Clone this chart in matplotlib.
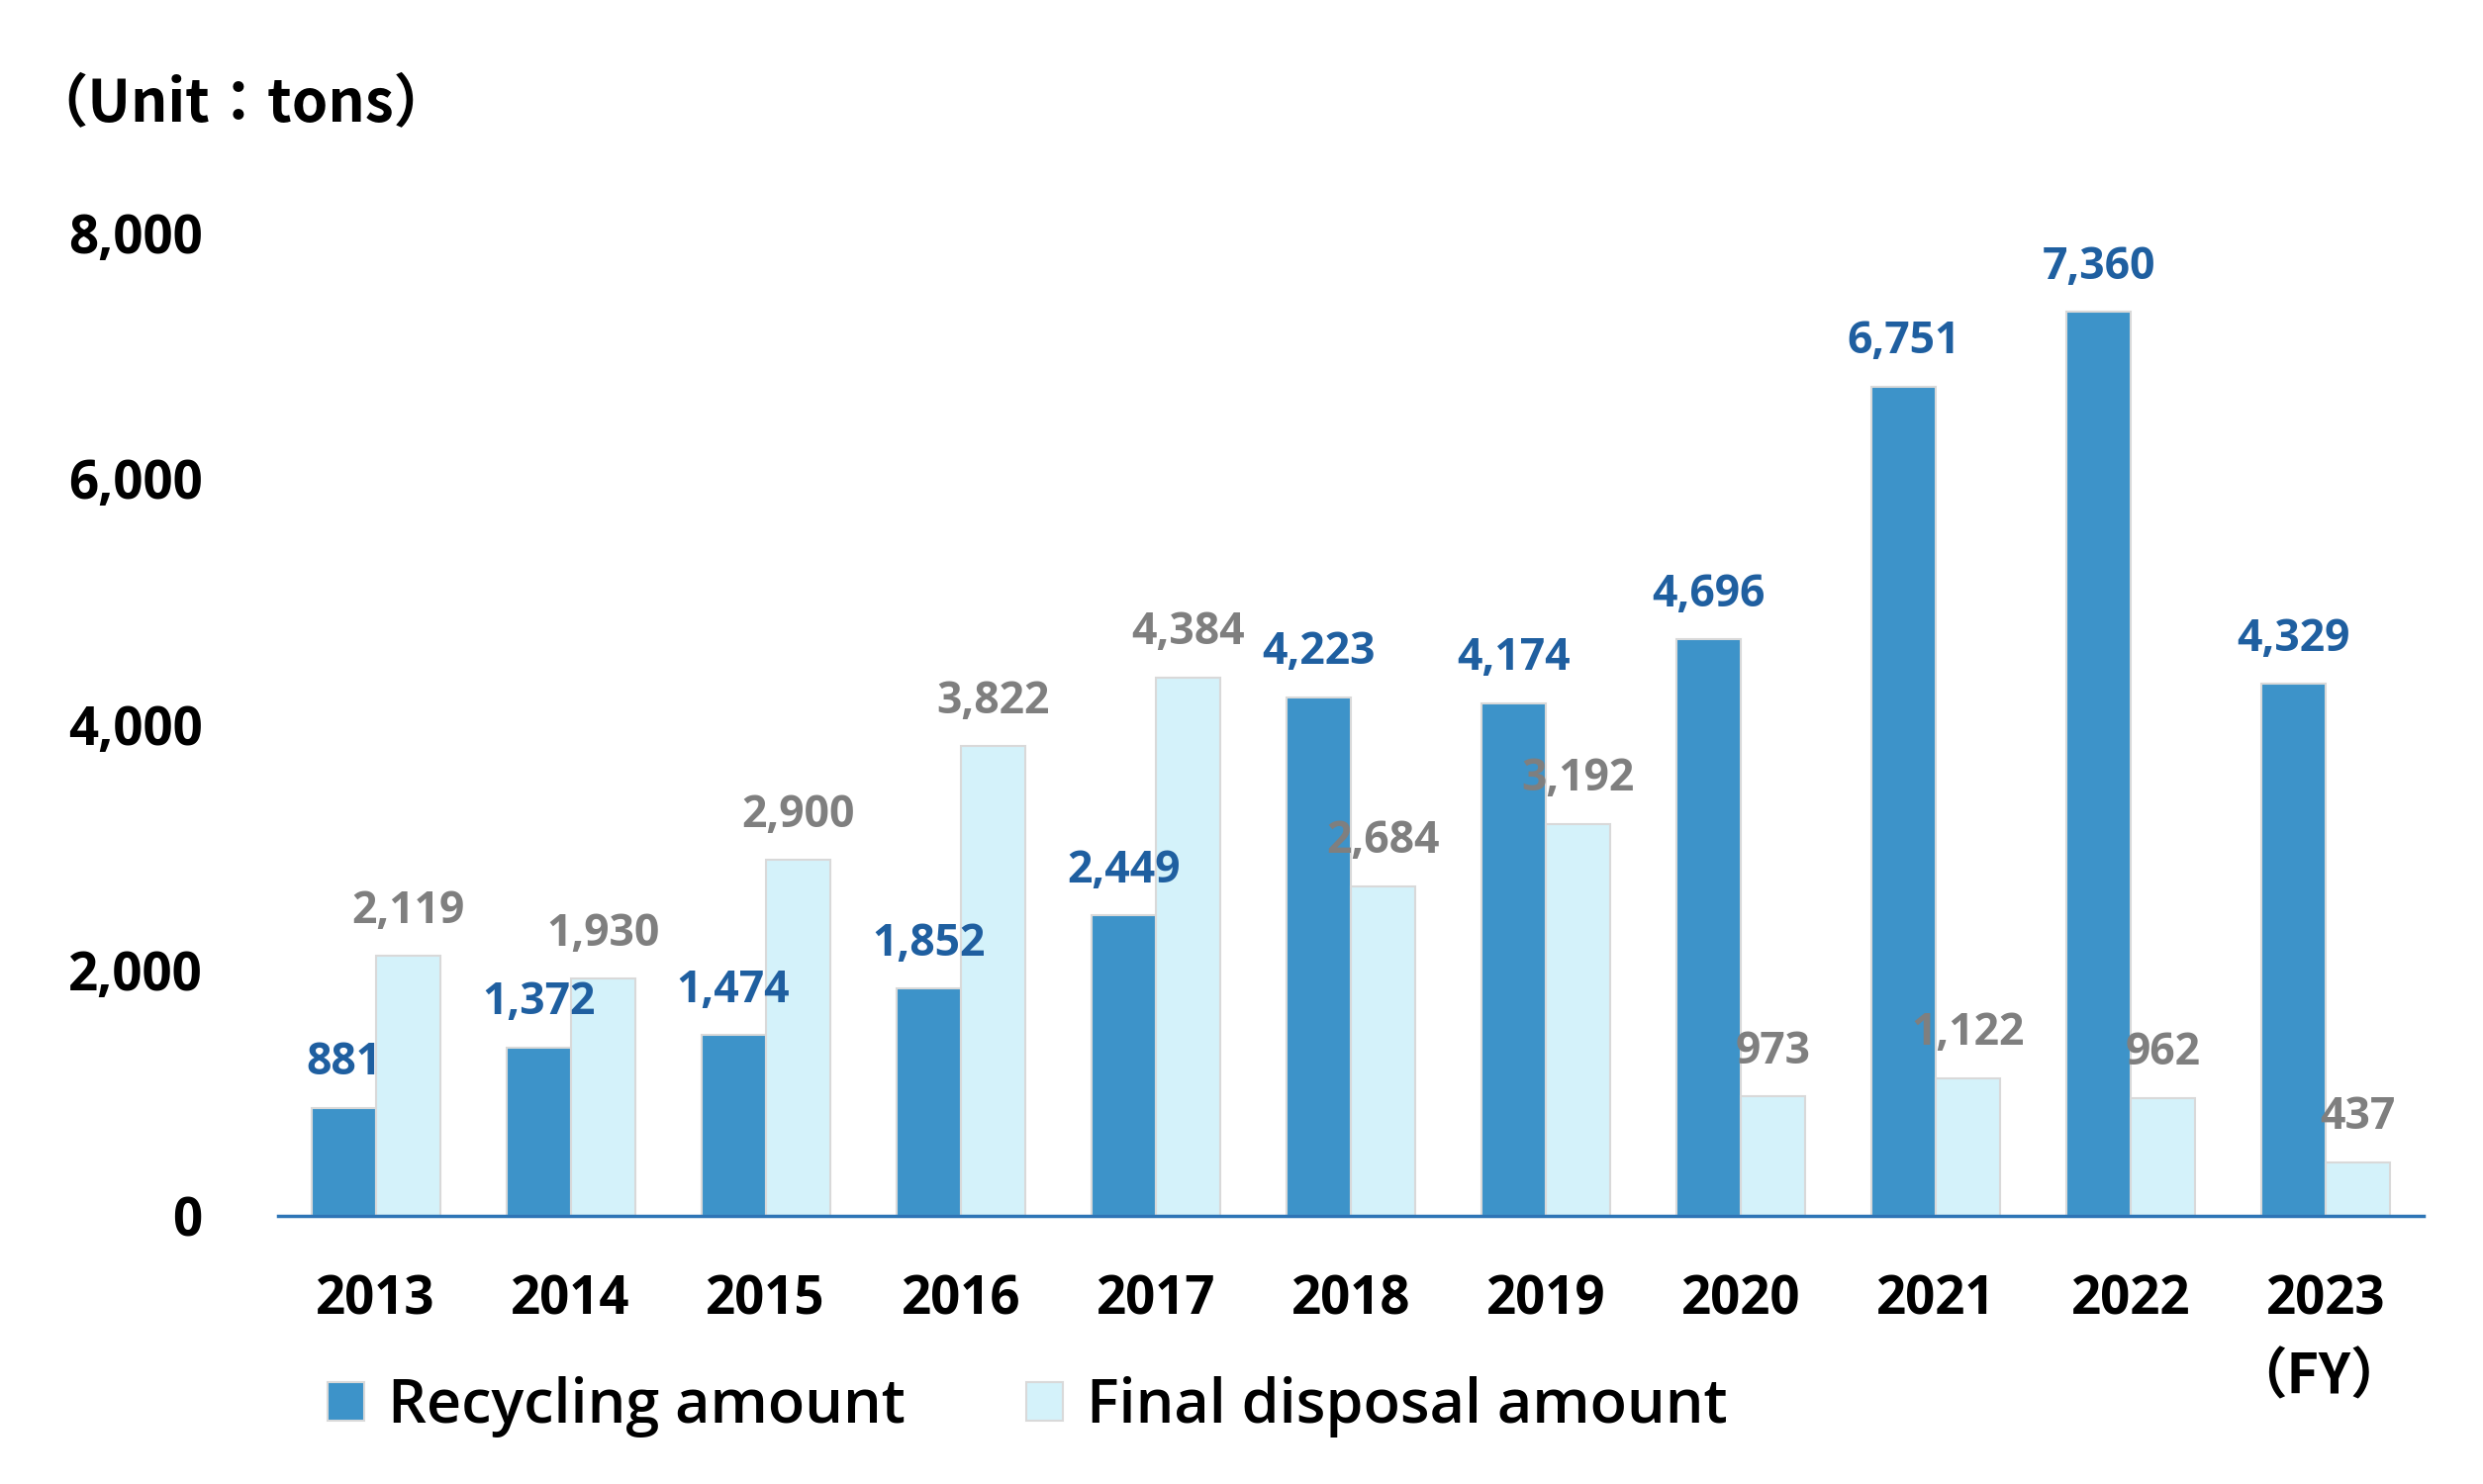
import matplotlib
matplotlib.use("Agg")
import matplotlib.pyplot as plt
import numpy as np

years = ["2013","2014","2015","2016","2017","2018","2019","2020","2021","2022","2023"]
recycling = [881,1372,1474,1852,2449,4223,4174,4696,6751,7360,4329]
final_disposal = [2119,1930,2900,3822,4384,2684,3192,973,1122,962,437]

plt.rcParams["font.family"] = "Open Sans"
fig = plt.figure(figsize=(25.09, 15.0), dpi=100)
ax = fig.add_axes([0.112, 0.1806, 0.864, 0.6624])
x = np.arange(len(years))
w = 0.33
dark = "#3d93c9"; light = "#d4f2fa"
b1 = ax.bar(x - w/2, recycling, w, color=dark, edgecolor="#d9d9d9", linewidth=1.5, label="Recycling amount")
b2 = ax.bar(x + w/2, final_disposal, w, color=light, edgecolor="#d9d9d9", linewidth=1.5, label="Final disposal amount")
for xi, v in zip(x, recycling):
    ax.text(xi - w/2, v + 180, f"{v:,}", ha="center", va="bottom", color="#1f5fa0", fontsize=32, fontweight="bold")
for xi, v in zip(x, final_disposal):
    ax.text(xi + w/2, v + 180, f"{v:,}", ha="center", va="bottom", color="#7f7f7f", fontsize=32, fontweight="bold")
ax.set_xlim(-0.5, len(years) - 0.5)
ax.set_ylim(0, 8000)
ax.set_yticks([0, 2000, 4000, 6000, 8000])
ax.set_yticklabels([f"{v:,}" for v in [0, 2000, 4000, 6000, 8000]], fontsize=38, fontweight="bold")
ax.set_xticks(x)
ax.set_xticklabels(years, fontsize=38, fontweight="bold")
for s in ["top", "right", "left"]:
    ax.spines[s].set_visible(False)
ax.spines["bottom"].set_color("#2e75b6")
ax.spines["bottom"].set_linewidth(2.5)
ax.tick_params(axis="x", length=0, pad=42)
ax.tick_params(axis="y", length=0, pad=55)
fig.text(0.012, 0.93, "（Unit：tons）", fontsize=42, fontweight="bold", family="Noto Sans CJK JP", va="center")
fig.text(0.934, 0.072, "（FY）", fontsize=40, fontweight="bold", family="Noto Sans CJK JP", ha="center", va="center")
fig.legend(handles=[b1, b2], loc="center left", bbox_to_anchor=(0.11, 0.052), ncol=2, frameon=False,
           prop={"size": 44, "weight": "semibold"}, handlelength=0.6, handleheight=0.6,
           columnspacing=2.0, handletextpad=0.4)
fig.savefig("out.png", dpi=100)
